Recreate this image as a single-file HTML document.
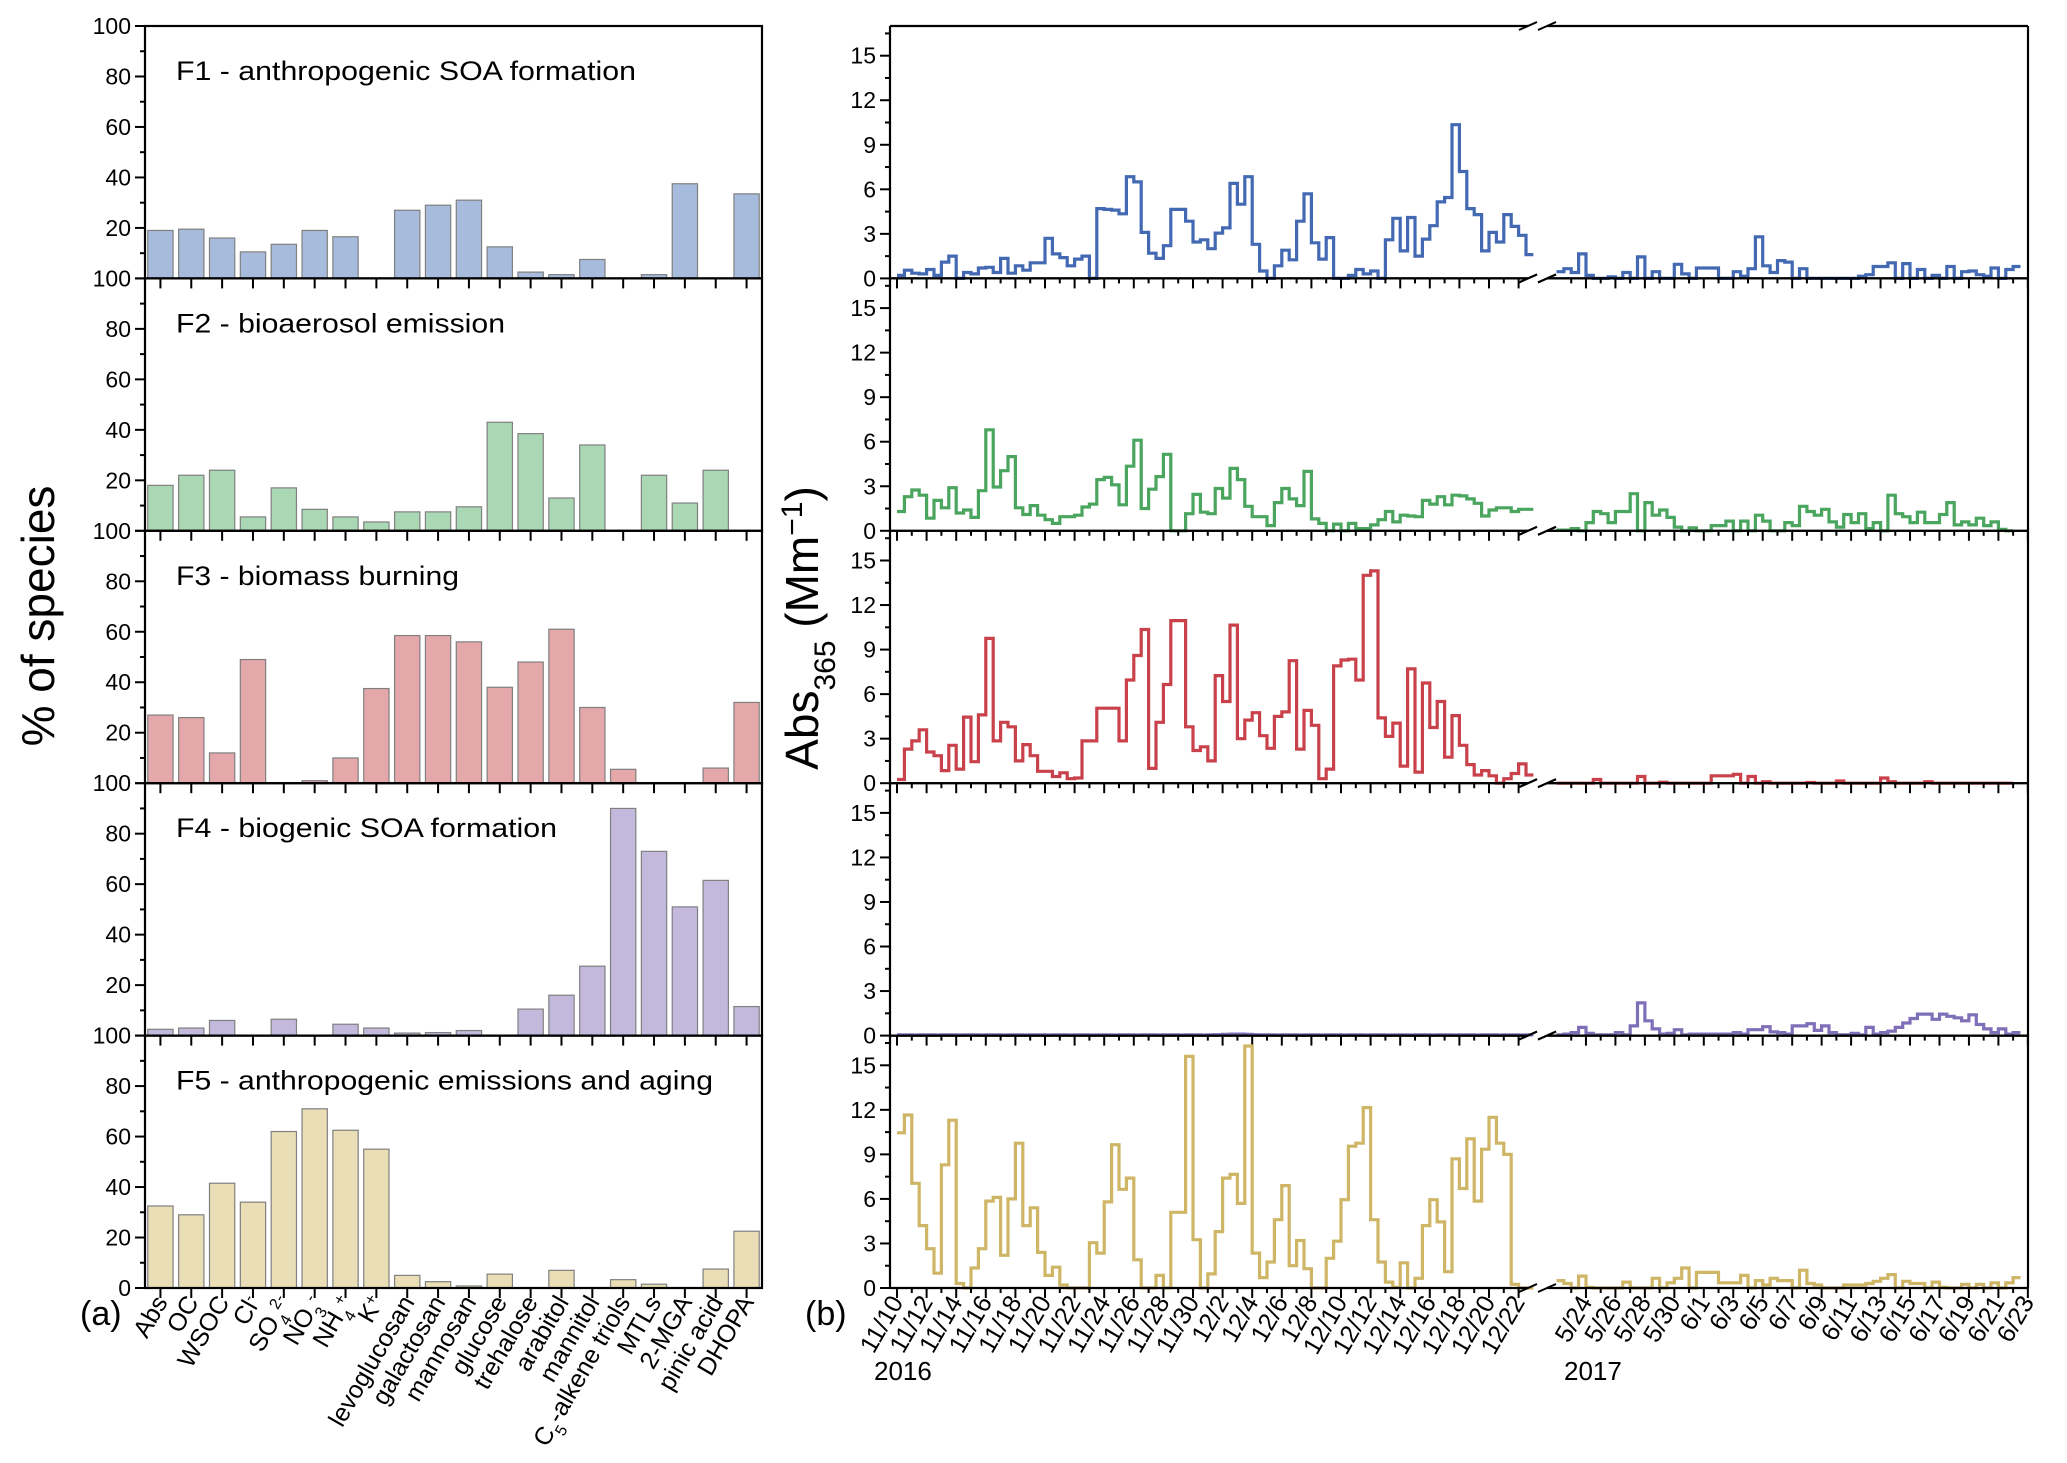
<!DOCTYPE html>
<html><head><meta charset="utf-8"><title>PMF factor profiles and Abs365 time series</title>
<style>html,body{margin:0;padding:0;background:#fff;}svg{display:block;font-family:"Liberation Sans",Arial,sans-serif;}</style>
</head><body>
<svg id="chart" xmlns="http://www.w3.org/2000/svg" width="2067" height="1463" viewBox="0 0 2067 1463">
<rect x="0" y="0" width="2067" height="1463" fill="#fff"/>
<text x="54" y="616" font-size="46" text-anchor="middle" transform="rotate(-90 54 616)">% of species</text>
<text x="818" y="628" font-size="46" text-anchor="middle" transform="rotate(-90 818 628)">Abs<tspan baseline-shift="sub" font-size="30">365</tspan> (Mm<tspan baseline-shift="super" font-size="30">−1</tspan>)</text>
<text x="80" y="1325" font-size="34">(a)</text>
<text x="805" y="1325" font-size="34">(b)</text>
<text x="874" y="1380" font-size="26">2016</text>
<text x="1564" y="1380" font-size="26">2017</text>
</svg>
<script>
// ---------- data ----------
const categories = ['Abs','OC','WSOC','Cl<tspan baseline-shift="super" font-size="16">-</tspan>','SO<tspan baseline-shift="sub" font-size="16">4</tspan><tspan baseline-shift="super" font-size="16">2-</tspan>','NO<tspan baseline-shift="sub" font-size="16">3</tspan><tspan baseline-shift="super" font-size="16">-</tspan>','NH<tspan baseline-shift="sub" font-size="16">4</tspan><tspan baseline-shift="super" font-size="16">+</tspan>','K<tspan baseline-shift="super" font-size="16">+</tspan>','levoglucosan','galactosan','mannosan','glucose','trehalose','arabitol','mannitol','C<tspan baseline-shift="sub" font-size="16">5</tspan>-alkene triols','MTLs','2-MGA','pinic acid','DHOPA'];
const factorTitles = ['F1 - anthropogenic SOA formation','F2 - bioaerosol emission','F3 - biomass burning','F4 - biogenic SOA formation','F5 - anthropogenic emissions and aging'];
const f1Bars = [19,19.5,16,10.5,13.5,19,16.5,0,27,29,31,12.5,2.5,1.5,7.5,0,1.5,37.5,0,33.5];
const f2Bars = [18,22,24,5.5,17,8.5,5.5,3.5,7.5,7.5,9.5,43,38.5,13,34,0,22,11,24,0];
const f3Bars = [27,26,12,49,0,1,10,37.5,58.5,58.5,56,38,48,61,30,5.5,0,0,6,32];
const f4Bars = [2.5,3,6,0,6.5,0,4.5,3,1,1.2,2,0,10.5,16,27.5,90,73,51,61.5,11.5];
const f5Bars = [32.5,29,41.5,34,62,71,62.5,55,5,2.5,0.8,5.5,0,7,0,3.3,1.5,0,7.5,22.5];
const leftTicks = [0,20,40,60,80,100];
const rightTicks = [0,3,6,9,12,15];
const dates2016 = ['11/10','11/12','11/14','11/16','11/18','11/20','11/22','11/24','11/26','11/28','11/30','12/2','12/4','12/6','12/8','12/10','12/12','12/14','12/16','12/18','12/20','12/22'];
const dates2017 = ['5/24','5/26','5/28','5/30','6/1','6/3','6/5','6/7','6/9','6/11','6/13','6/15','6/17','6/19','6/21','6/23'];
// half-day Abs365 values
const f1_2016 = [0.2,0.55,0.35,0.3,0.6,0.2,1.1,1.5,0,0.4,0.3,0.7,0.75,0.4,1.35,0.35,0.85,0.55,1.05,1.05,2.7,1.65,1.4,0.85,1.3,1.5,0,4.7,4.65,4.6,4.35,6.85,6.5,3.1,1.7,1.35,2.2,4.65,4.65,3.85,2.45,2.6,2.0,3.05,3.4,6.4,5.0,6.85,2.3,0.5,0,0.85,1.9,1.25,3.85,5.7,2.4,1.3,2.75,0,0,0.2,0.6,0.3,0.5,0,2.6,4.05,1.85,4.1,1.5,2.65,3.55,5.15,5.45,10.35,7.2,4.7,4.3,1.85,3.1,2.45,4.3,3.5,2.9,1.6];
const f2_2016 = [1.3,2.3,2.75,2.4,0.85,2.05,1.55,2.9,1.2,1.4,0.9,2.7,6.8,2.95,4.05,5.0,1.55,1.1,1.7,1.05,0.75,0.5,0.95,0.95,1.05,1.6,1.8,3.45,3.6,3.1,1.75,4.35,6.1,1.5,2.8,3.65,5.15,0,0,1.15,2.45,1.25,1.15,2.85,2.2,4.2,3.45,1.65,0.95,0.95,0.35,1.9,2.85,2.15,1.7,4.0,0.8,0.5,0,0.45,0,0.5,0.15,0.15,0.4,0.75,1.3,0.6,1.05,1.0,0.95,2.05,1.8,2.3,1.75,2.4,2.35,2.15,1.85,1.0,1.4,1.55,1.55,1.3,1.45,1.45];
const f3_2016 = [0.25,2.3,2.85,3.6,2.1,1.85,0.85,2.55,0.95,4.45,1.45,4.6,9.75,2.85,4.1,3.8,1.5,2.6,1.85,0.8,0.8,0.45,0.7,0.3,0.35,2.85,2.85,5.05,5.05,5.05,2.85,6.95,8.6,10.35,1.0,4.1,6.65,10.95,10.95,3.8,2.2,2.45,1.5,7.25,5.5,10.65,3.0,4.25,4.75,3.2,2.35,4.5,4.8,8.25,2.3,4.9,3.9,0.3,0.95,7.9,8.3,8.35,6.95,14.0,14.3,4.4,3.15,4.05,1.15,7.7,0.75,6.75,3.75,5.5,1.75,4.55,2.55,1.25,0.55,0.85,0.5,0,0.3,0.65,1.3,0.55];
const f4_2016 = [0.05,0.05,0.04,0.05,0.05,0.04,0.05,0.05,0.04,0.05,0.05,0.04,0.05,0.05,0.04,0.05,0.05,0.04,0.05,0.05,0.04,0.05,0.05,0.04,0.05,0.05,0.04,0.05,0.05,0.04,0.05,0.05,0.04,0.05,0.05,0.04,0.05,0.05,0.04,0.05,0.05,0.04,0.05,0.06,0.08,0.1,0.1,0.08,0.06,0.05,0.05,0.04,0.05,0.05,0.04,0.05,0.05,0.04,0.05,0.05,0.04,0.05,0.05,0.04,0.05,0.05,0.04,0.05,0.05,0.04,0.05,0.05,0.04,0.05,0.05,0.04,0.05,0.05,0.04,0.05,0.05,0.04,0.05,0.05,0.04,0.05];
const f5_2016 = [10.45,11.65,7.05,4.2,2.65,1.0,8.3,11.3,0.3,0,1.35,2.65,5.85,6.1,2.2,6.0,9.75,4.2,5.4,2.4,0.85,1.4,0.2,0,0,0,3.05,2.35,5.8,9.65,6.65,7.4,1.9,0,0,0.85,0,5.1,5.1,15.6,3.25,0,0.95,3.8,7.4,7.65,5.7,16.3,2.35,0.7,1.75,4.6,6.9,1.5,3.2,1.3,0,0,2.0,3.15,5.95,9.55,9.75,12.15,4.6,1.75,0.4,0.05,1.7,0,0.65,4.2,5.95,4.45,1.1,8.7,6.7,10.05,5.85,9.35,11.5,9.75,9.0,0.25,0,0];
const f1_2017 = [0.45,0.65,0.4,1.65,0.2,0,0,0.1,0,0.4,0,1.45,0,0.45,0,0,0.95,0.3,0,0.7,0.7,0.7,0,0,0.45,0.15,0.65,2.8,0.85,0.4,1.2,1.1,0,0.65,0,0,0,0,0,0,0,0.15,0.25,0.8,0.8,1.05,0,1.0,0,0.6,0,0.2,0,0.8,0,0.45,0.5,0.25,0.15,0.7,0,0.6,0.8];
const f2_2017 = [0.05,0.05,0.15,0,0.55,1.3,1.15,0.55,1.3,1.3,2.5,0,1.9,1.05,1.4,0.9,0.25,0,0.2,0,0,0.35,0.35,0.65,0,0.65,0,1.05,0.65,0,0,0.55,0.35,1.65,1.3,1.05,1.45,0.6,0.25,1.1,0.55,1.15,0.15,0.55,0,2.4,1.15,0.95,0.55,1.25,0.55,0.55,1.1,1.9,0.4,0.6,0.4,0.85,0.35,0.6,0.1,0];
const f3_2017 = [0,0,0,0,0,0.25,0,0,0,0,0,0.45,0,0,0.07,0,0,0,0,0,0,0.5,0.5,0.5,0.6,0,0.45,0,0.1,0,0,0,0,0,0.05,0,0,0,0.15,0,0,0,0,0,0.35,0.1,0,0,0,0,0.1,0,0,0,0,0,0,0,0,0,0,0];
const f4_2017 = [0.05,0.1,0.2,0.55,0.15,0.05,0.05,0.05,0.2,0.05,0.65,2.2,1.0,0.45,0.1,0.15,0.4,0.05,0.1,0.1,0.1,0.1,0.1,0.1,0.2,0.1,0.4,0.4,0.6,0.25,0.2,0.1,0.65,0.65,0.8,0.35,0.65,0.2,0.05,0.05,0.15,0.05,0.55,0.1,0.2,0.3,0.55,0.85,1.15,1.45,1.45,1.1,1.45,1.3,1.2,1.0,1.4,0.75,0.45,0.2,0.45,0.1,0.2];
const f5_2017 = [0.5,0.3,0,0.8,0.05,0,0,0,0,0.4,0,0,0,0.65,0,0.35,0.65,1.35,0,1.05,1.05,1.05,0.35,0.35,0.35,0.85,0,0.5,0.2,0.65,0.5,0.5,0,1.2,0.3,0.2,0,0,0,0.2,0.2,0.2,0.3,0.45,0.65,0.9,0,0.45,0.3,0.3,0,0.4,0.05,0,0,0.25,0,0.25,0,0.35,0,0.35,0.7];

const barSets = [f1Bars,f2Bars,f3Bars,f4Bars,f5Bars];
const series2016 = [f1_2016,f2_2016,f3_2016,f4_2016,f5_2016];
const series2017 = [f1_2017,f2_2017,f3_2017,f4_2017,f5_2017];
const barColors = ['#a7bbdc','#aad8b5','#e4a7aa','#c3b9dc','#e9deb5'];
const lineColors = ['#4369b3','#4aa55e','#c9424b','#7f6fb9','#cfb667'];

// ---------- layout ----------
const svg = document.getElementById('chart');
const NS = 'http://www.w3.org/2000/svg';
const TOP = 26, PH = 252.4;
const LX0 = 145, LX1 = 762, BIN = (LX1 - LX0) / categories.length;
const RX0 = 890, RX1 = 2028, BRK_A = 1528, BRK_B = 1547;
const RMAX = 17;
function panelTop(k){ return TOP + k*PH; }
function panelBot(k){ return TOP + (k+1)*PH; }
function yLeft(k, v){ return panelBot(k) - v/100*PH; }
function yRight(k, v){ return panelBot(k) - v/RMAX*PH; }
function xCat(i){ return LX0 + (i+0.5)*BIN; }
function x2016(day){ return 897 + day*14.8; }
function x2017(day){ return 1556.5 + day*14.73; }
function mk(tag, attrs, parent){
  const e = document.createElementNS(NS, tag);
  for (const k in attrs) e.setAttribute(k, attrs[k]);
  (parent||svg).appendChild(e);
  return e;
}
function line(x1,y1,x2,y2,w){ return mk('line',{x1:x1,y1:y1,x2:x2,y2:y2,stroke:'#000','stroke-width':w||2}); }

// ---------- left panels ----------
for (let k=0;k<5;k++){
  const g = mk('g',{});
  
  
  const vals = barSets[k];
  for (let i=0;i<vals.length;i++){
    if (vals[i] <= 0) continue;
    const y = yLeft(k, vals[i]);
    const r = mk('rect',{x:xCat(i)-BIN*0.41, y:y, width:BIN*0.82, height:panelBot(k)-y, fill:barColors[k], stroke:'#808080','stroke-width':1.2}, g);
    
    
  }
  const fr = mk('rect',{x:LX0,y:panelTop(k),width:LX1-LX0,height:PH,fill:'none',stroke:'#000','stroke-width':2.2}, g);
  
  
  for (let v=0; v<=100; v+=10){
    const y = yLeft(k, v);
    const t = line(LX0 - (v%20===0?10:5), y, LX0, y, 2);
    
    
  }
  for (const v of leftTicks){
    if (v===0 && k<4) continue;
    if (v===100 && k>0) continue;
    const tx = mk('text',{x:LX0-14, y:yLeft(k,v)+8, 'font-size':23, 'text-anchor':'end'});
    tx.textContent = String(v);
    
    
  }
  if (k<4){
    const tx = mk('text',{x:LX0-14, y:panelBot(k)+8, 'font-size':23, 'text-anchor':'end'});
    tx.textContent = '100';
    
    
  }
  for (let i=0;i<categories.length;i++){
    const t = line(xCat(i), panelBot(k), xCat(i), panelBot(k)+10, 2);
    
    
  }
  const widths = [460,329,283,381,537];
  const ti = mk('text',{x:176, y:panelTop(k)+54, 'font-size':27, textLength:widths[k], lengthAdjust:'spacingAndGlyphs'});
  ti.textContent = factorTitles[k];
  
  
}
for (let i=0;i<categories.length;i++){
  const x = xCat(i)+8, y = panelBot(4)+14;
  const tx = mk('text',{x:x, y:y, 'font-size':25, 'text-anchor':'end', transform:'rotate(-60 '+x+' '+y+')'});
  tx.innerHTML = categories[i];
  
  
}

// ---------- right panels ----------
function stepPath(vals, xf, k){
  let d = 'M'+xf(0).toFixed(1)+','+yRight(k,vals[0]).toFixed(1);
  for (let i=0;i<vals.length;i++){
    if (i>0) d += 'V'+yRight(k,vals[i]).toFixed(1);
    d += 'H'+xf((i+1)*0.5).toFixed(1);
  }
  return d;
}
for (let k=0;k<5;k++){
  const g = mk('g',{});
  
  
  const p1 = mk('path',{d:stepPath(series2016[k], x2016, k), fill:'none', stroke:lineColors[k], 'stroke-width':3.2}, g);
  
  
  const p2 = mk('path',{d:stepPath(series2017[k], x2017, k), fill:'none', stroke:lineColors[k], 'stroke-width':3.2}, g);
  
  
  const lv = line(RX0, panelTop(k), RX0, panelBot(k), 2.2);
  
  
  const rv = line(RX1, panelTop(k), RX1, panelBot(k), 2.2);
  
  
  for (const yy of [panelTop(k), panelBot(k)]){
    const a = line(RX0, yy, BRK_A, yy, 2.2);
    
    
    const b = line(BRK_B, yy, RX1, yy, 2.2);
    
    
    for (const bx of [BRK_A, BRK_B]){
      const s = line(bx-9, yy+4, bx+9, yy-4, 2);
      
      
    }
  }
  for (let v=0; v<=16.5; v+=1.5){
    const y = yRight(k, v);
    const t = line(RX0 - (v%3===0?10:5), y, RX0, y, 2);
    
    
  }
  for (const v of rightTicks){
    const tx = mk('text',{x:RX0-14, y:yRight(k,v)+8, 'font-size':23, 'text-anchor':'end'});
    tx.textContent = String(v);
    
    
  }
  for (let d=0; d<=42; d++){
    const x = x2016(d);
    const t = line(x, panelBot(k), x, panelBot(k)+(d%2===0?10:5), 2);
    
    
  }
  for (let d=1; d<=32; d++){
    const x = x2017(d);
    const t = line(x, panelBot(k), x, panelBot(k)+(d%2===0?10:5), 2);
    
    
  }
}
const yb = panelBot(4)+14;
dates2016.forEach(function(lab, i){
  const x = x2016(i*2)+7;
  const tx = mk('text',{x:x, y:yb, 'font-size':25, 'text-anchor':'end', transform:'rotate(-60 '+x+' '+yb+')'});
  tx.textContent = lab;
  
  
});
dates2017.forEach(function(lab, i){
  const x = x2017(2+i*2)+7;
  const tx = mk('text',{x:x, y:yb, 'font-size':25, 'text-anchor':'end', transform:'rotate(-60 '+x+' '+yb+')'});
  tx.textContent = lab;
  
  
});
</script>
</body></html>
